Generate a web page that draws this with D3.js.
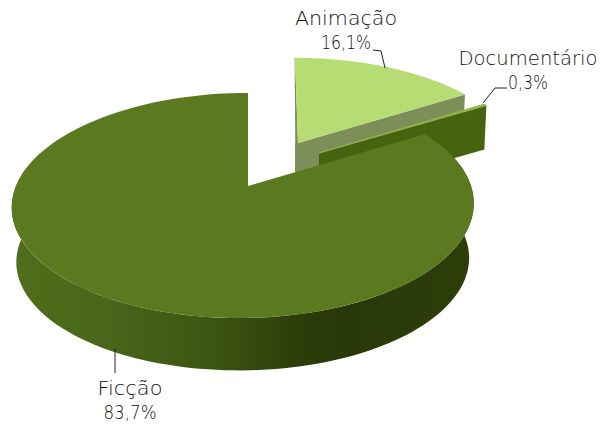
<!DOCTYPE html>
<html><head><meta charset="utf-8">
<script src="https://cdn.jsdelivr.net/npm/d3@7/dist/d3.min.js"></script>
<style>html,body{margin:0;padding:0;background:#fff}svg{display:block}
text{font-family:"DejaVu Sans";font-weight:200;font-size:19px;fill:#111;text-anchor:middle}</style>
</head><body><svg id="c" width="610" height="425"></svg>
<script>
// data
const categories = ["Animação", "Documentário", "Ficção"];
const values = [16.1, 0.3, 83.7];
const valueLabels = ["16,1%", "0,3%", "83,7%"];

// layout
const W = 610, H = 425;
const sliceLayout = [
  {cx: 298, cy: 143, kx: .955, ky: .915, shear: 3, depth: 44, face: "#b6dc74", wall: "#7d8f58"},
  {cx: 319, cy: 153, kx: .935, ky: .92, shear: 0, depth: 44, face: "#93b24f", wall: "#466410"},
  {cx: 248, cy: 186, kx: 1, ky: 1, shear: 0, depth: 55, face: "#5b7a1f", wall: "url(#side)"}
];
const labelLayout = [
  {x: 346, y: 25, w: 102, wv: 50, lead: [[373,50],[381,51],[385,68]]},
  {x: 528, y: 65, w: 139, wv: 40, lead: [[507,88],[495,88],[483,103]]},
  {x: 130, y: 395, w: 65, wv: 53, lead: [[115,348],[115,373]]}
];
const A = 227.5, B = 109.2, P = 0.173, offX = -4.5, lineH = 24;

const svg = d3.select("#c");
const grad = svg.append("defs").append("linearGradient").attr("id","side")
  .attr("gradientUnits","userSpaceOnUse").attr("x1",15).attr("x2",472).attr("y1",0).attr("y2",0);
[[0,"#4f6f1b"],[.22,"#48651a"],[.42,"#3d5612"],[.62,"#2c3d0a"],[.72,"#293809"],[1,"#2d3e0a"]]
  .forEach(s => grad.append("stop").attr("offset",s[0]).attr("stop-color",s[1]));

const arcs = d3.pie().sort(null).value(d => d)(values);
const line = d3.line().x(d => d[0]).y(d => d[1]);
const project = (l, a, ring = 1, dy = 0, main = false) => {
  const u = Math.sin(a), v = -Math.cos(a), w = 1 - P * v;
  return [l.cx + (main ? offX * (1 + v) : 0) + l.kx * ring * A * u / w + l.shear * v,
          l.cy + dy + l.ky * ring * B * v / w];
};
const angles = (a0, a1) => d3.range(0, 121).map(i => a0 + (a1 - a0) * i / 120);

function drawSlice(i) {
  const l = sliceLayout[i], d = arcs[i], main = i === 2, g = svg.append("g");
  const ring = main ? .98 : 1;
  const apex = [l.cx, l.cy], apexLow = [l.cx, l.cy + l.depth];
  if (main) {
    const sa = d3.scaleLinear().domain([0,1]).range([d.startAngle + .2, d.endAngle - 1.25]);
    const as = angles(sa(0), sa(1));
    g.append("path").attr("fill", l.wall).attr("d", line(
      as.map(a => project(l,a,1,0,true)).concat(as.slice().reverse().map(a => project(l,a,ring,l.depth,true)))) + "Z");
  } else {
    const tip = project(l, d.endAngle), tipLow = [tip[0] - 2, tip[1] + l.depth];
    g.append("path").attr("fill", l.wall).attr("d", line([apex, tip, tipLow, apexLow]) + "Z");
    if (i === 0) {
      const top = project(l, d.startAngle);
      g.append("path").attr("fill", l.wall).attr("d", line([top, apex, apexLow, [top[0]+.6, apexLow[1]], [top[0]-.4, top[1]]]) + "Z");
      g.append("path").attr("fill", l.wall).attr("d", line([[apex[0]-3,apex[1]],apex,apexLow,[apex[0]-3,apexLow[1]]]) + "Z");
    }
  }
  const pts = angles(d.startAngle, d.endAngle).map(a => project(l,a,1,0,main));
  g.append("path").attr("fill", l.face)
    .attr("stroke", i === 1 ? l.face : "none").attr("stroke-width", i === 1 ? .8 : 0)
    .attr("d", line([apex].concat(pts)) + "Z");
}
[0,1,2].forEach(drawSlice);

categories.forEach((c,i) => {
  const l = labelLayout[i];
  svg.append("path").attr("fill","none").attr("stroke","#222").attr("stroke-width",1).attr("d", line(l.lead));
  svg.append("text").attr("x", l.x).attr("y", l.y).attr("textLength", l.w).attr("lengthAdjust","spacingAndGlyphs").text(c);
  svg.append("text").attr("x", l.x).attr("y", l.y + lineH).attr("textLength", l.wv).attr("lengthAdjust","spacingAndGlyphs").text(valueLabels[i]);
});
</script></body></html>
